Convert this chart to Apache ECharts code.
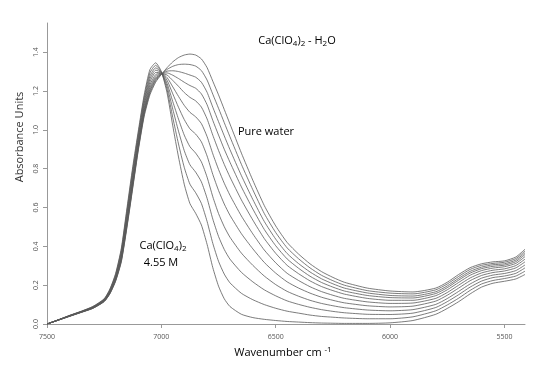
<!DOCTYPE html>
<html>
<head>
<meta charset="utf-8">
<script src="https://cdn.jsdelivr.net/npm/echarts@6/dist/echarts.min.js"></script>
<style>
  html, body { margin: 0; padding: 0; background: #ffffff; }
  #chart { width: 535px; height: 365px; }
</style>
</head>
<body>
<div id="chart"></div>
<script>
// NIR spectra of Ca(ClO4)2 - H2O solutions, from 4.55 M down to pure water
const wavenumbers = [7500, 7450, 7400, 7350, 7300, 7250, 7225, 7200, 7175, 7150, 7125, 7100, 7075, 7050, 7025, 7000,
  6975, 6950, 6925, 6900, 6875, 6850, 6825, 6800, 6775, 6750, 6725, 6700, 6650, 6600, 6550, 6500, 6450, 6400, 6350,
  6300, 6250, 6200, 6100, 6000, 5900, 5800, 5750, 5700, 5650, 5600, 5550, 5500, 5450, 5410];

const abs455M = [0, .022, .045, .066, .09, .13, .18, .26, .39, .60, .81, 1.00, 1.18, 1.31, 1.345, 1.30, 1.19, 1.02, .86, .72, .62, .57, .51, .41, .29, .195, .13, .09, .05, .033, .024, .018, .013, .010, .007, .005, .004, .003, .003, .006, .018, .05, .08, .115, .155, .19, .21, .22, .232, .255];
const absSol1 = [0, .022, .044, .065, .089, .128, .177, .255, .381, .587, .796, .987, 1.166, 1.293, 1.332, 1.298, 1.207, 1.063, .927, .807, .720, .676, .621, .528, .415, .323, .257, .212, .158, .125, .100, .081, .066, .056, .046, .039, .035, .031, .027, .027, .037, .068, .098, .133, .173, .206, .224, .234, .247, .272];
const absSol2 = [0, .021, .044, .064, .087, .126, .174, .250, .372, .574, .781, .974, 1.151, 1.276, 1.319, 1.296, 1.224, 1.106, .993, .893, .820, .782, .732, .647, .540, .451, .384, .334, .266, .217, .176, .145, .119, .101, .086, .074, .065, .058, .050, .049, .056, .085, .115, .151, .190, .221, .239, .247, .261, .289];
const absSol3 = [0, .021, .043, .064, .086, .124, .171, .245, .363, .562, .768, .962, 1.138, 1.261, 1.307, 1.294, 1.239, 1.145, 1.055, .973, .913, .880, .835, .756, .655, .569, .501, .447, .365, .302, .247, .203, .168, .143, .122, .106, .094, .084, .072, .068, .074, .101, .131, .168, .206, .236, .252, .260, .275, .304];
const absSol4 = [0, .021, .043, .063, .085, .123, .168, .240, .355, .55, .755, .95, 1.125, 1.245, 1.295, 1.293, 1.255, 1.185, 1.116, 1.053, 1.005, .978, .938, .865, .770, .688, .618, .560, .465, .387, .317, .262, .217, .185, .159, .138, .122, .109, .094, .088, .092, .118, .148, .185, .223, .250, .265, .273, .289, .320];
const absSol5 = [0, .021, .042, .062, .084, .121, .165, .236, .347, .539, .743, .939, 1.113, 1.231, 1.284, 1.291, 1.269, 1.221, 1.172, 1.126, 1.090, 1.067, 1.032, .965, .876, .796, .725, .663, .556, .464, .381, .315, .261, .224, .192, .167, .148, .132, .114, .106, .108, .132, .162, .200, .237, .263, .277, .284, .301, .334];
const absSol6 = [0, .021, .041, .062, .083, .119, .162, .232, .340, .529, .732, .929, 1.102, 1.218, 1.274, 1.289, 1.282, 1.254, 1.224, 1.192, 1.167, 1.149, 1.117, 1.056, .972, .894, .822, .757, .639, .535, .440, .364, .302, .259, .222, .193, .172, .154, .132, .122, .122, .146, .176, .214, .251, .275, .288, .295, .312, .347];
const absSol7 = [0, .020, .041, .061, .082, .118, .160, .228, .335, .521, .723, .921, 1.093, 1.207, 1.266, 1.288, 1.293, 1.281, 1.264, 1.245, 1.228, 1.214, 1.185, 1.129, 1.048, .973, .900, .833, .706, .592, .487, .403, .335, .287, .246, .214, .190, .170, .147, .136, .134, .157, .187, .226, .262, .285, .297, .303, .321, .358];
const absSol8 = [0, .020, .041, .061, .081, .117, .159, .226, .330, .514, .715, .914, 1.085, 1.198, 1.259, 1.287, 1.302, 1.304, 1.300, 1.292, 1.282, 1.271, 1.245, 1.193, 1.116, 1.042, .969, .898, .764, .641, .528, .437, .363, .311, .268, .233, .207, .185, .160, .147, .144, .166, .196, .235, .271, .293, .305, .310, .329, .367];
const absSol9 = [0, .020, .040, .060, .081, .116, .157, .223, .325, .507, .708, .907, 1.078, 1.189, 1.252, 1.286, 1.311, 1.327, 1.336, 1.338, 1.336, 1.328, 1.305, 1.256, 1.183, 1.111, 1.037, .964, .822, .691, .569, .471, .392, .336, .289, .251, .223, .200, .172, .159, .155, .176, .206, .245, .281, .302, .312, .318, .337, .376];
const absPureWater = [0, .02, .04, .06, .08, .115, .155, .22, .32, .50, .70, .90, 1.07, 1.18, 1.245, 1.285, 1.32, 1.35, 1.372, 1.385, 1.39, 1.385, 1.365, 1.32, 1.25, 1.18, 1.105, 1.03, .88, .74, .61, .505, .42, .36, .31, .27, .24, .215, .185, .17, .165, .185, .215, .255, .29, .31, .32, .325, .345, .385];

const spectra = [abs455M, absSol1, absSol2, absSol3, absSol4, absSol5, absSol6, absSol7, absSol8, absSol9, absPureWater];

const xTicks = [7500, 7000, 6500, 6000, 5500];
const yTicks = [0, 0.2, 0.4, 0.6, 0.8, 1.0, 1.2, 1.4];

const FONT = '"Open Sans", "Noto Sans", sans-serif';

const chart = echarts.init(document.getElementById('chart'), null, { renderer: 'canvas' });

const series = spectra.map((vals, s) => ({
  type: 'line',
  name: 'spectrum' + s,
  data: wavenumbers.map((w, i) => [w, vals[i]]),
  showSymbol: false,
  smooth: 0.2,
  silent: true,
  lineStyle: { color: '#5a5a5a', width: 0.8 }
}));

const rich = {
  a: { fontFamily: FONT, fontSize: 11, color: '#333', lineHeight: 14, verticalAlign: 'middle' },
  s: { fontFamily: FONT, fontSize: 8, color: '#333', lineHeight: 8, verticalAlign: 'bottom' },
  p: { fontFamily: FONT, fontSize: 8, color: '#333', lineHeight: 8, verticalAlign: 'top' }
};

chart.setOption({
  animation: false,
  backgroundColor: '#ffffff',
  grid: { left: 47, right: 10, top: 23, bottom: 41 },
  xAxis: {
    type: 'value',
    inverse: true,
    min: 5410,
    max: 7500,
    axisLine: { show: true, lineStyle: { color: '#999', width: 1 } },
    axisTick: { show: true, length: 4, customValues: xTicks, lineStyle: { color: '#999' } },
    axisLabel: {
      customValues: xTicks, fontFamily: FONT, fontSize: 7, color: '#555', margin: 9,
      formatter: v => String(v)
    },
    splitLine: { show: false }
  },
  yAxis: {
    type: 'value',
    min: 0,
    max: 1.55,
    axisLine: { show: true, lineStyle: { color: '#999', width: 1 } },
    axisTick: { show: true, length: 4, customValues: yTicks, lineStyle: { color: '#999' } },
    axisLabel: {
      customValues: yTicks, rotate: 90, fontFamily: FONT, fontSize: 7, color: '#555', margin: 8,
      formatter: v => v.toFixed(1)
    },
    splitLine: { show: false }
  },
  graphic: [
    {
      type: 'text', x: 20, y: 137, rotation: Math.PI / 2,
      style: { text: 'Absorbance Units', fontFamily: FONT, fontSize: 11, fill: '#333', align: 'center', verticalAlign: 'middle' }
    },
    {
      type: 'text', x: 283, y: 353,
      style: { text: '{a|Wavenumber cm }{p|-1}', rich: rich, align: 'center', verticalAlign: 'middle' }
    },
    {
      type: 'text', x: 297, y: 41,
      style: { text: '{a|Ca(ClO}{s|4}{a|)}{s|2}{a| - H}{s|2}{a|O}', rich: rich, align: 'center', verticalAlign: 'middle' }
    },
    {
      type: 'text', x: 266, y: 132,
      style: { text: '{a|Pure water}', rich: rich, align: 'center', verticalAlign: 'middle' }
    },
    {
      type: 'text', x: 163, y: 246,
      style: { text: '{a|Ca(ClO}{s|4}{a|)}{s|2}', rich: rich, align: 'center', verticalAlign: 'middle' }
    },
    {
      type: 'text', x: 161, y: 263,
      style: { text: '{a|4.55 M}', rich: rich, align: 'center', verticalAlign: 'middle' }
    }
  ],
  series: series
});
</script>
</body>
</html>
